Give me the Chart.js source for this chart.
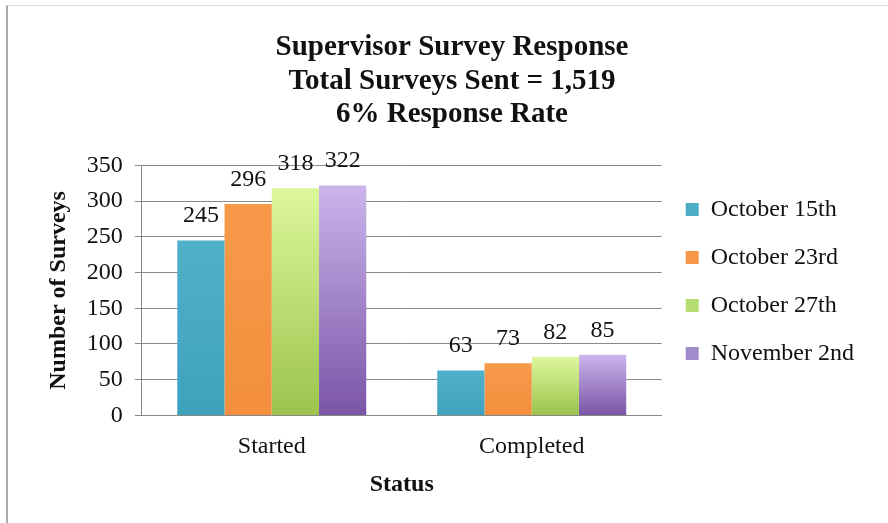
<!DOCTYPE html>
<html>
<head>
<meta charset="utf-8">
<script src="https://cdn.jsdelivr.net/npm/chart.js@4.4.0/dist/chart.umd.min.js"></script>
<style>
  html, body { margin: 0; padding: 0; background: #fff; }
  #frame { position: absolute; left: 6px; top: 5px; width: 882px; height: 518px;
           border-left: 2px solid #aaa; border-top: 1px solid #ddd; }
  #wrap { position: absolute; left: 0; top: 0; width: 888px; height: 523px; }
</style>
</head>
<body>
<div id="frame"></div>
<div id="wrap"><canvas id="chart" width="888" height="523"></canvas></div>
<script>
const categories = ['Started', 'Completed'];
const seriesNames = ['October 15th', 'October 23rd', 'October 27th', 'November 2nd'];
const oct15 = [245, 63];
const oct23 = [296, 73];
const oct27 = [318, 82];
const nov2 = [322, 85];
const yTicks = [0, 50, 100, 150, 200, 250, 300, 350];

// top / bottom colours of each bar's gradient
const topColors = ['#4fb0ca', '#f8994a', '#ddf79c', '#cbb5ec'];
const bottomColors = ['#3fa2bd', '#f38f3f', '#9bc34d', '#7a55a6'];
const legendColors = ['#4bacc6', '#f79646', '#b6dd70', '#a28bcb'];

const serif = "'Liberation Serif', 'Times New Roman', serif";

function barFill(i) {
    return function (ctx) {
        const chart = ctx.chart;
        const area = chart.chartArea;
        if (!area || ctx.type !== 'data') return legendColors[i];
        const yTop = chart.scales.y.getPixelForValue(ctx.raw);
        const g = chart.ctx.createLinearGradient(0, yTop, 0, area.bottom);
        g.addColorStop(0, topColors[i]);
        g.addColorStop(1, bottomColors[i]);
        return g;
    };
}

const valueLabels = {
    id: 'valueLabels',
    afterDatasetsDraw(chart) {
        const c = chart.ctx;
        c.save();
        c.font = '24px ' + serif;
        c.fillStyle = '#111';
        c.textAlign = 'center';
        c.textBaseline = 'alphabetic';
        chart.data.datasets.forEach(function (ds, i) {
            chart.getDatasetMeta(i).data.forEach(function (bar, j) {
                c.fillText(ds.data[j], bar.x, bar.y - 18);
            });
        });
        c.restore();
    }
};

const allSeries = [oct15, oct23, oct27, nov2];

new Chart(document.getElementById('chart'), {
    type: 'bar',
    data: {
        labels: categories,
        datasets: allSeries.map(function (d, i) {
            return {
                label: seriesNames[i],
                data: d,
                backgroundColor: barFill(i),
                borderWidth: 0,
                categoryPercentage: 0.727,
                barPercentage: 1.0
            };
        })
    },
    options: {
        responsive: false,
        animation: false,
        layout: { padding: { left: 40, right: 24, top: 20, bottom: 20 } },
        plugins: {
            title: {
                display: true,
                text: ['Supervisor Survey Response', 'Total Surveys Sent = 1,519', '6% Response Rate'],
                font: { family: serif, size: 29, weight: 'bold', lineHeight: 1.155 },
                color: '#111',
                padding: { top: 11, bottom: 34 }
            },
            legend: {
                position: 'right',
                align: 'center',
                // empty title only pushes the legend items down a little
                title: { display: true, text: ' ', color: '#111', font: { size: 10, lineHeight: 1 }, padding: 15 },
                labels: {
                    font: { family: serif, size: 24 },
                    color: '#111',
                    boxWidth: 13,
                    boxHeight: 13,
                    padding: 24,
                    generateLabels: function (chart) {
                        return chart.data.datasets.map(function (ds, i) {
                            return {
                                text: ds.label,
                                fillStyle: legendColors[i],
                                strokeStyle: legendColors[i],
                                fontColor: '#111',
                                lineWidth: 0,
                                datasetIndex: i
                            };
                        });
                    }
                }
            },
            tooltip: { enabled: false }
        },
        scales: {
            x: {
                grid: { display: false },
                border: { color: '#888', width: 1 },
                ticks: { font: { family: serif, size: 24 }, color: '#111', padding: 9 },
                title: {
                    display: true,
                    text: 'Status',
                    font: { family: serif, size: 24, weight: 'bold' },
                    color: '#111',
                    padding: { top: 0 }
                }
            },
            y: {
                min: 0,
                max: 350,
                afterBuildTicks: function (scale) {
                    scale.ticks = yTicks.map(function (v) { return { value: v }; });
                },
                grid: { color: '#8a8a8a', tickLength: 7, lineWidth: 1 },
                border: { color: '#888', width: 1 },
                ticks: { font: { family: serif, size: 24 }, color: '#111', padding: 12 },
                title: {
                    display: true,
                    text: 'Number of Surveys',
                    font: { family: serif, size: 24, weight: 'bold' },
                    color: '#111',
                    padding: { bottom: 2 }
                }
            }
        }
    },
    plugins: [valueLabels]
});
</script>
</body>
</html>
